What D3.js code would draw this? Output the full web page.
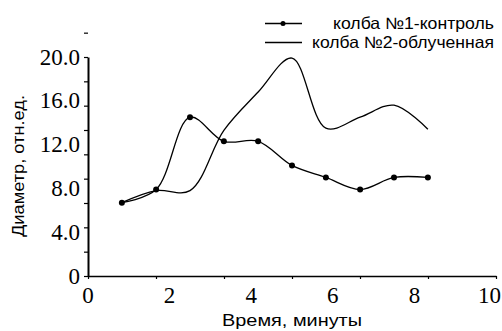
<!DOCTYPE html>
<html>
<head>
<meta charset="utf-8">
<script src="https://cdn.jsdelivr.net/npm/d3@7"></script>
<style>
    body { margin: 0; background: #fff; }
</style>
</head>
<body>
<div id="graph-container"></div>
<script>
// time of measurement, minutes
const minutes = [0.83, 1.67, 2.5, 3.33, 4.17, 5.0, 5.83, 6.67, 7.5, 8.33];
// diameter, relative units
const control = [6.7, 7.9, 14.5, 12.3, 12.3, 10.1, 9.0, 7.9, 9.0, 9.0];
const irradiated = [6.7, 7.8, 7.8, 13.3, 16.8, 19.9, 13.5, 14.5, 15.6, 13.4];

const seriesNames = ['колба №1-контроль', 'колба №2-облученная'];
const xLabels = [0, 2, 4, 6, 8, 10];
const yLabels = [0, 4, 8, 12, 16, 20];
const xTickMarks = [0, 10 / 6, 20 / 6, 30 / 6, 40 / 6, 50 / 6, 10];
const yTickMarks = [0, 1, 2, 3, 4, 5, 6, 7, 8, 9, 10].map((k) => k * 20 / 9);

const width = 502;
const height = 331;
const serif = "'Liberation Serif', 'Times New Roman', serif";
const sans = "'Liberation Sans', Arial, sans-serif";

const svg = d3.select('#graph-container')
    .append('svg')
    .attr('width', width)
    .attr('height', height);

svg.append('rect')
    .attr('width', width)
    .attr('height', height)
    .attr('fill', '#fff');

// Scales
const xScale = d3.scaleLinear()
    .domain([0, 10])
    .range([88, 496]);

const yScale = d3.scaleLinear()
    .domain([0, 20])
    .range([276, 57]);

// Y axis (tick marks only, labels separately)
const yAxis = d3.axisLeft(yScale)
    .tickValues(yTickMarks)
    .tickSizeInner(4)
    .tickSizeOuter(0)
    .tickFormat('');

const yAxisG = svg.append('g')
    .attr('transform', `translate(${xScale(0)},0)`)
    .call(yAxis);
yAxisG.select('.domain').attr('stroke-width', 2);
yAxisG.selectAll('.tick line').attr('stroke-width', 1.2);

svg.selectAll('.y-label')
    .data(yLabels)
    .enter()
    .append('text')
    .style('font-family', serif)
    .style('font-size', '23px')
    .attr('text-anchor', 'end')
    .attr('dominant-baseline', 'central')
    .attr('x', xScale(0) - 8)
    .attr('y', (d) => yScale(d))
    .text((d) => (d === 0 ? '0' : d3.format('.1f')(d)));

// X axis
const xAxis = d3.axisBottom(xScale)
    .tickValues(xTickMarks)
    .tickSizeInner(3)
    .tickSizeOuter(0)
    .tickFormat('');

const xAxisG = svg.append('g')
    .attr('transform', `translate(0,${yScale(0)})`)
    .call(xAxis);
xAxisG.select('.domain').attr('stroke-width', 1.6);
xAxisG.selectAll('.tick line').attr('stroke-width', 1.2);

svg.selectAll('.x-label')
    .data(xLabels)
    .enter()
    .append('text')
    .style('font-family', serif)
    .style('font-size', '23px')
    .attr('text-anchor', (d, i) => (i === xLabels.length - 1 ? 'end' : 'middle'))
    .attr('x', (d, i) => (i === xLabels.length - 1 ? xScale(d) + 5 : xScale(d)))
    .attr('y', 303)
    .text((d) => d);

// Axis titles
svg.append('text')
    .style('font-family', sans)
    .style('font-size', '17px')
    .attr('text-anchor', 'middle')
    .attr('textLength', 140)
    .attr('lengthAdjust', 'spacingAndGlyphs')
    .attr('x', 292)
    .attr('y', 326)
    .text('Время, минуты');

svg.append('text')
    .style('font-family', sans)
    .style('font-size', '17px')
    .attr('text-anchor', 'middle')
    .attr('textLength', 142)
    .attr('lengthAdjust', 'spacingAndGlyphs')
    .attr('transform', 'translate(24,166) rotate(-90)')
    .text('Диаметр, отн.ед.');

// Graph lines
const lineFunction = d3.line()
    .curve(d3.curveCatmullRom.alpha(0.5))
    .x((d) => xScale(d[0]))
    .y((d) => yScale(d[1]));

const controlPoints = minutes.map((m, i) => [m, control[i]]);
const irradiatedPoints = minutes.map((m, i) => [m, irradiated[i]]);

svg.append('path')
    .attr('d', lineFunction(irradiatedPoints))
    .attr('stroke', '#000')
    .attr('stroke-width', 1.3)
    .attr('fill', 'none');

svg.append('path')
    .attr('d', lineFunction(controlPoints))
    .attr('stroke', '#000')
    .attr('stroke-width', 1.3)
    .attr('fill', 'none');

svg.selectAll('.dot')
    .data(controlPoints)
    .enter()
    .append('circle')
    .attr('cx', (d) => xScale(d[0]))
    .attr('cy', (d) => yScale(d[1]))
    .attr('r', 3)
    .attr('fill', '#000');

// Legend
const legendRows = [23.5, 42.5];
const legendWidths = [161, 182];
legendRows.forEach((y, i) => {
    svg.append('line')
        .attr('x1', 265)
        .attr('x2', 302)
        .attr('y1', y)
        .attr('y2', y)
        .attr('stroke', '#000')
        .attr('stroke-width', 1.3);
    if (i === 0) {
        svg.append('circle')
            .attr('cx', 283)
            .attr('cy', y)
            .attr('r', 2.5)
            .attr('fill', '#000');
    }
    svg.append('text')
        .style('font-family', sans)
        .style('font-size', '16.5px')
        .attr('text-anchor', 'end')
        .attr('textLength', legendWidths[i])
        .attr('lengthAdjust', 'spacingAndGlyphs')
        .attr('x', 494)
        .attr('y', y + 5.5)
        .text(seriesNames[i]);
});
</script>
</body>
</html>
